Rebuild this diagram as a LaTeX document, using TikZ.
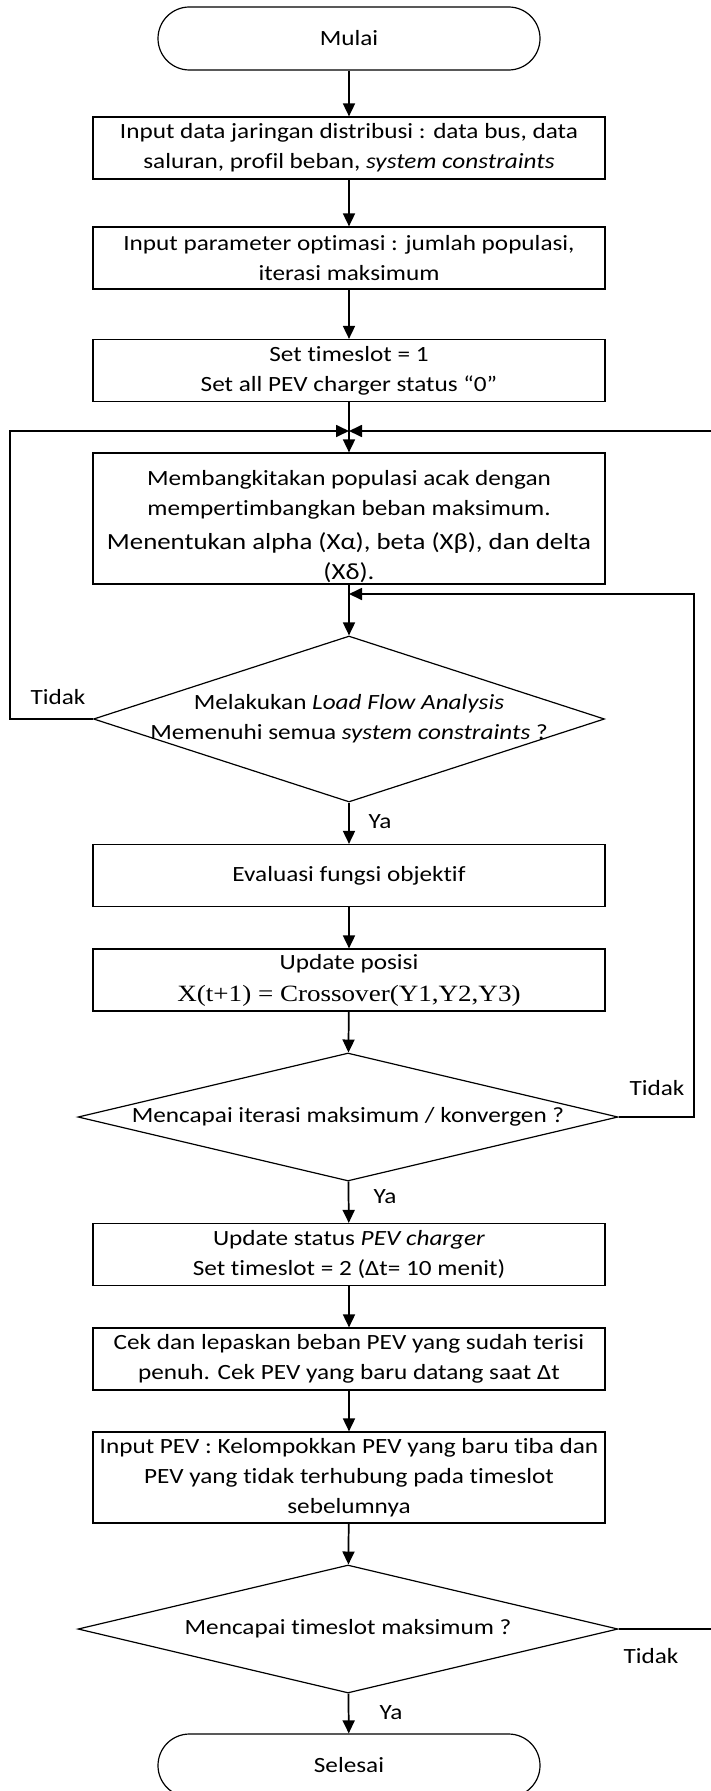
\documentclass[tikz,border=0pt]{standalone}
\usepackage{fontspec}
\setmainfont{Carlito}[FakeStretch=1.16,Ligatures=NoCommon]
\newfontfamily\tnr{Liberation Serif}[FakeStretch=1.16]
\usetikzlibrary{arrows.meta,shapes.geometric}
\begin{document}
\begin{tikzpicture}[x=0.75pt,y=-0.75pt,
  base/.style={font=\fontsize{16.3pt}{22.5pt}\selectfont, align=center, inner sep=0pt},
  term/.style={base, draw, line width=0.9pt, rounded corners=23.6pt, minimum width=286.5pt, minimum height=47.25pt},
  proc/.style={base, draw, line width=0.9pt, minimum width=384pt, minimum height=46.5pt},
  dec/.style={draw, diamond, line width=0.9pt, inner sep=0pt, minimum width=405pt, minimum height=96pt},
  lbl/.style={base},
  conn/.style={line width=1.3pt},
  arr/.style={conn, -{Triangle[length=9.75pt,width=9pt]}},
]
\useasboundingbox (0,0) rectangle (710,1791);

\node[term] (mulai) at (349,38.5) {Mulai};
\node[proc] (b1) at (349,148) {Input data jaringan distribusi : data bus, data\\ saluran, profil beban, \textit{system constraints}};
\node[proc] (b2) at (349,258) {Input parameter optimasi : jumlah populasi,\\ iterasi maksimum};
\node[proc] (b3) at (349,370.5) {Set timeslot = 1\\ Set all PEV charger status “0”};
\node[proc, minimum height=98.25pt] (b4) at (349,518.5) {};
\node[lbl] (b4t) at (349,527) {Membangkitakan populasi acak dengan\\ mempertimbangkan beban maksimum.\\[3pt] {\fontsize{17.35pt}{22.5pt}\selectfont Menentukan alpha (Xα), beta (Xβ), dan delta}\\ {\fontsize{17.35pt}{22.5pt}\selectfont (Xδ).}};
\node[dec, minimum width=383.25pt, minimum height=124.5pt] (d1) at (349,719) {};
\node[lbl] (d1t) at (d1.center) {Melakukan \textit{Load Flow Analysis}\\ Memenuhi semua \textit{system constraints} ?};
\node[proc] (b5) at (349,875.5) {Evaluasi fungsi objektif};
\node[proc] (b6) at (349,980) {Update posisi\\[1.5pt] {\tnr\fontsize{17.5pt}{22.5pt}\selectfont X(t+1) = Crossover(Y1,Y2,Y3)}};
\node[dec] (d2) at (348,1117) {};
\node[lbl] (d2t) at (d2.center) {Mencapai iterasi maksimum / konvergen ?};
\node[proc] (b7) at (349,1254.5) {Update status \textit{PEV charger}\\ Set timeslot = 2 (Δt= 10 menit)};
\node[proc] (b8) at (349,1359) {Cek dan lepaskan beban PEV yang sudah terisi\\ penuh. Cek PEV yang baru datang saat Δt};
\node[proc, minimum height=68.25pt] (b9) at (349,1477.5) {Input PEV : Kelompokkan PEV yang baru tiba dan\\ PEV yang tidak terhubung pada timeslot\\ sebelumnya};
\node[dec] (d3) at (348,1629) {};
\node[lbl] (d3t) at (d3.center) {Mencapai timeslot maksimum ?};
\node[term] (selesai) at (349,1765.5) {Selesai};

\coordinate (j1) at (349,431);
\coordinate (j2) at (349,594);
\coordinate (lc) at (10,431);
\coordinate (rtop) at (712,431);
\coordinate (rc) at (694,594);
\coordinate (rbot) at (712,1629);

\draw[arr] (mulai) -- (b1);
\draw[arr] (b1) -- (b2);
\draw[arr] (b2) -- (b3);
\draw[arr] (b3) -- (b4);
\draw[arr] (b4) -- (d1);
\draw[arr] (d1) -- (b5);
\draw[arr] (b5) -- (b6);
\draw[arr] (b6) -- (d2);
\draw[arr] (d2) -- (b7);
\draw[arr] (b7) -- (b8);
\draw[arr] (b8) -- (b9);
\draw[arr] (b9) -- (d3);
\draw[arr] (d3) -- (selesai);

\draw[arr] (d1.west) -| (lc) -- (j1);
\draw[arr] (rtop) -- (j1);
\draw[arr] (d2.east) -| (rc) -- (j2);
\draw[conn] (d3.east) -- (rbot);

\node[lbl] (t1) at (58,697) {Tidak};
\node[lbl] (y1) at (380,822) {Ya};
\node[lbl] (t2) at (657,1088) {Tidak};
\node[lbl] (y2) at (385,1197) {Ya};
\node[lbl] (t3) at (651,1656) {Tidak};
\node[lbl] (y3) at (391,1713) {Ya};
\end{tikzpicture}
\end{document}
